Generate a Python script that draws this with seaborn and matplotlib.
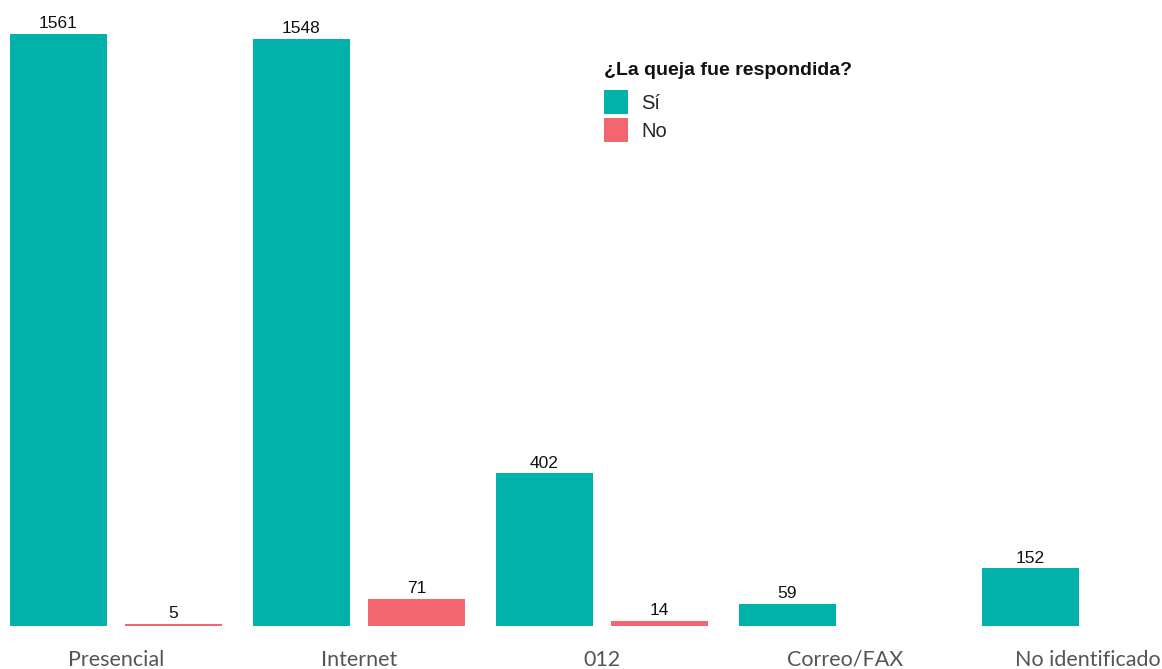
import matplotlib
matplotlib.use("Agg")
import matplotlib.pyplot as plt
import matplotlib.patches as mpatches
import seaborn as sns
import pandas as pd

canales = ["Presencial", "Internet", "012", "Correo/FAX", "No identificado"]
respondida_si = [1561, 1548, 402, 59, 152]
respondida_no = [5, 71, 14, None, None]
respuestas = ["Sí", "No"]
colores = {"Sí": "#00B2A9", "No": "#F3666F"}

rows = []
for c, s, n in zip(canales, respondida_si, respondida_no):
    rows.append({"canal": c, "respuesta": "Sí", "quejas": s})
    if n is not None:
        rows.append({"canal": c, "respuesta": "No", "quejas": n})
df = pd.DataFrame(rows)

sns.set_theme(style="white")
fig = plt.figure(figsize=(11.62, 6.69), dpi=100)
ax = fig.add_axes([0, 0.0643, 1, 0.9357])

sns.barplot(data=df, x="canal", y="quejas", hue="respuesta", order=canales,
            hue_order=respuestas, palette=colores, width=0.947, gap=0.157,
            saturation=1, legend=False, ax=ax, errorbar=None, linewidth=0)

for cont in ax.containers:
    ax.bar_label(cont, fmt="%d", padding=2, fontsize=12.5,
                 family="Liberation Sans", color="#111111")

ax.set_xlim(-0.477, 4.305)
ax.set_ylim(0, 1650)
ax.set_xlabel("")
ax.set_ylabel("")
ax.set_yticks([])
for sp in ax.spines.values():
    sp.set_visible(False)
ax.tick_params(axis="x", length=0, pad=17, labelsize=15.5, labelcolor="#555555")
for lbl in ax.get_xticklabels():
    lbl.set_family("Lato")

handles = [mpatches.Patch(color=colores[r], label=r, linewidth=0) for r in respuestas]
leg = ax.legend(handles=handles, title="¿La queja fue respondida?",
                loc="upper left", bbox_to_anchor=(0.511, 0.917),
                frameon=False, handlelength=1.2, handleheight=1.45,
                handletextpad=0.65, labelspacing=0.2, borderpad=0,
                alignment="left", prop={"family": "Liberation Sans", "size": 14.5})
leg.get_title().set_fontweight("bold")
leg.get_title().set_family("Liberation Sans")
leg.get_title().set_fontsize(14)
leg.get_title().set_color("#111111")
leg._legend_box.sep = 8

fig.savefig("out.png", dpi=100)
